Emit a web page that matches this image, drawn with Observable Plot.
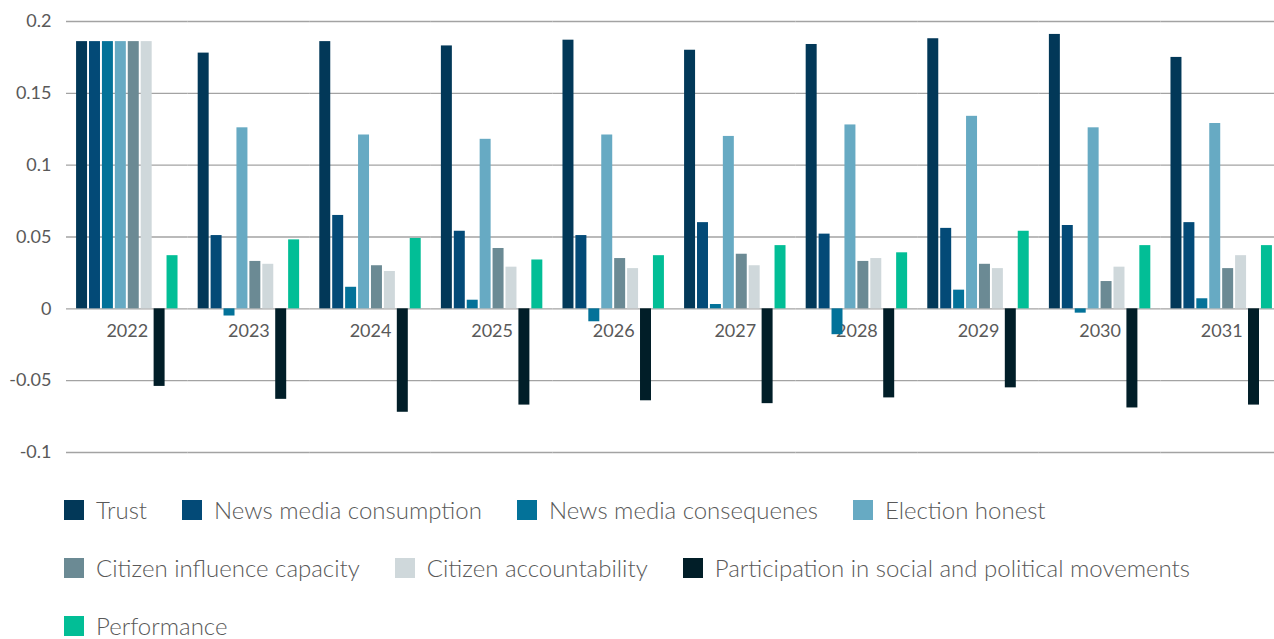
<!DOCTYPE html>
<html>
<head>
<meta charset="utf-8">
<script src="https://cdn.jsdelivr.net/npm/d3@7"></script>
<script src="https://cdn.jsdelivr.net/npm/@observablehq/plot@0.6"></script>
<style>
  html, body { margin: 0; padding: 0; background: #fff; overflow: hidden; }
  #chart { width: 1282px; }
  .legend {
    display: flex; flex-wrap: wrap; column-gap: 35px; row-gap: 28px;
    padding: 25px 0 0 64px; width: 1190px;
    font-family: Lato, "Open Sans", sans-serif; font-weight: 300; font-size: 24px; color: #595959;
  }
  .legend .item { display: flex; align-items: center; height: 30px; line-height: 30px; white-space: nowrap; }
  .legend .sw { width: 20px; height: 20px; margin-right: 12px; flex: none; }
</style>
</head>
<body>
<div id="chart"></div>
<script>
const years = ["2022","2023","2024","2025","2026","2027","2028","2029","2030","2031"];
const seriesNames = ["Trust","News media consumption","News media consequenes","Election honest","Citizen influence capacity","Citizen accountability","Participation in social and political movements","Performance"];
const seriesColors = ["#023858","#034a77","#037299","#67aac3","#6b8a94","#cfd8db","#011e28","#02be96"];

const trust                 = [0.186, 0.178, 0.186, 0.183, 0.187, 0.180, 0.184, 0.188, 0.191, 0.175];
const newsConsumption       = [0.186, 0.051, 0.065, 0.054, 0.051, 0.060, 0.052, 0.056, 0.058, 0.060];
const newsConsequences      = [0.186, -0.005, 0.015, 0.006, -0.009, 0.003, -0.018, 0.013, -0.003, 0.007];
const electionHonest        = [0.186, 0.126, 0.121, 0.118, 0.121, 0.120, 0.128, 0.134, 0.126, 0.129];
const citizenInfluence      = [0.186, 0.033, 0.030, 0.042, 0.035, 0.038, 0.033, 0.031, 0.019, 0.028];
const citizenAccountability = [0.186, 0.031, 0.026, 0.029, 0.028, 0.030, 0.035, 0.028, 0.029, 0.037];
const participation         = [-0.054, -0.063, -0.072, -0.067, -0.064, -0.066, -0.062, -0.055, -0.069, -0.067];
const performance           = [0.037, 0.048, 0.049, 0.034, 0.037, 0.044, 0.039, 0.054, 0.044, 0.044];

const yTicks = [-0.1, -0.05, 0, 0.05, 0.1, 0.15, 0.2];

const seriesValues = [trust, newsConsumption, newsConsequences, electionHonest, citizenInfluence, citizenAccountability, participation, performance];
const data = [];
years.forEach((yr, i) => {
  seriesNames.forEach((s, j) => data.push({year: yr, series: s, value: seriesValues[j][i]}));
});

const chart = Plot.plot({
  width: 1282,
  height: 470,
  marginLeft: 66,
  marginRight: 0,
  marginTop: 21,
  marginBottom: 18,
  style: {fontFamily: "Lato, 'Open Sans', sans-serif", fontSize: "18px", color: "#595959", background: "#fff"},
  fx: {domain: years, padding: 0, axis: null, round: false},
  x: {domain: seriesNames, paddingInner: 0.15, paddingOuter: 0.78, axis: null, round: false},
  y: {domain: [-0.1, 0.2], ticks: yTicks, tickFormat: d => String(d), tickSize: 0, label: null},
  color: {domain: seriesNames, range: seriesColors},
  marks: [
    Plot.ruleY(yTicks, {stroke: "#a3a3a3", strokeWidth: 1.3}),
    Plot.axisY({ticks: yTicks, tickFormat: d => String(d), tickSize: 0, textAnchor: "end", dx: -6, fontSize: 18, fill: "#595959"}),
    Plot.text(years, {fx: d => d, y: () => 0, text: d => d, dy: 22, fill: "#595959", fontSize: 18}),
    Plot.barY(data, {fx: "year", x: "series", y: "value", fill: "series"})
  ]
});
document.getElementById("chart").appendChild(chart);

const legend = document.createElement("div");
legend.className = "legend";
seriesNames.forEach((s, j) => {
  const it = document.createElement("div");
  it.className = "item";
  const sw = document.createElement("span");
  sw.className = "sw";
  sw.style.background = seriesColors[j];
  const tx = document.createElement("span");
  tx.textContent = s;
  it.appendChild(sw); it.appendChild(tx);
  legend.appendChild(it);
});
document.getElementById("chart").appendChild(legend);
</script>
</body>
</html>
